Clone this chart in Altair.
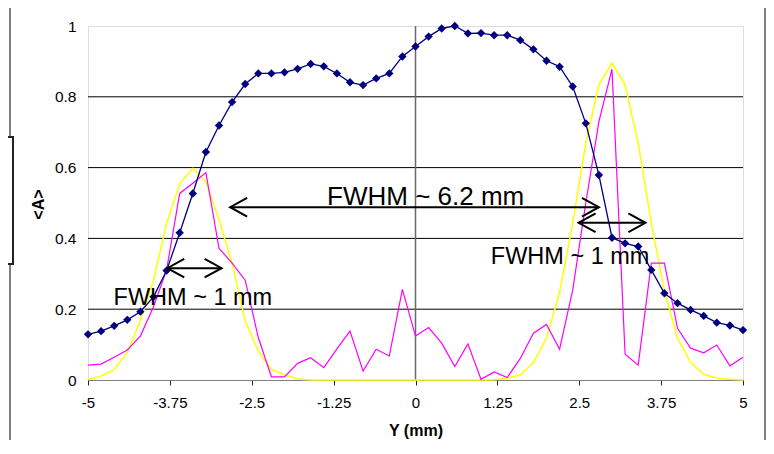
import altair as alt
import pandas as pd

# ---- data ----
y_mm = [-5.0, -4.8, -4.6, -4.4, -4.2, -4.0, -3.8, -3.6, -3.4, -3.2,
        -3.0, -2.8, -2.6, -2.4, -2.2, -2.0, -1.8, -1.6, -1.4, -1.2,
        -1.0, -0.8, -0.6, -0.4, -0.2, 0.0, 0.2, 0.4, 0.6, 0.8,
        1.0, 1.2, 1.4, 1.6, 1.8, 2.0, 2.2, 2.4, 2.6, 2.8,
        3.0, 3.2, 3.4, 3.6, 3.8, 4.0, 4.2, 4.4, 4.6, 4.8, 5.0]

blue = [0.129, 0.138, 0.153, 0.170, 0.193, 0.235, 0.309, 0.416, 0.527, 0.644,
        0.719, 0.785, 0.836, 0.866, 0.866, 0.869, 0.879, 0.893, 0.886, 0.866,
        0.841, 0.833, 0.852, 0.866, 0.914, 0.942, 0.970, 0.993, 1.000, 0.979,
        0.980, 0.974, 0.974, 0.960, 0.934, 0.902, 0.885, 0.829, 0.725, 0.579,
        0.402, 0.386, 0.377, 0.311, 0.245, 0.217, 0.198, 0.181, 0.162, 0.154, 0.141]

magenta = [0.042, 0.045, 0.064, 0.085, 0.124, 0.207, 0.311, 0.527, 0.556, 0.586,
           0.372, 0.330, 0.282, 0.120, 0.009, 0.009, 0.047, 0.063, 0.035, 0.088,
           0.138, 0.025, 0.087, 0.068, 0.256, 0.124, 0.148, 0.104, 0.038, 0.102,
           0.002, 0.023, 0.007, 0.061, 0.132, 0.157, 0.087, 0.254, 0.500, 0.730,
           0.878, 0.073, 0.042, 0.330, 0.330, 0.146, 0.090, 0.077, 0.099, 0.040, 0.064]

yellow = [0.002, 0.011, 0.030, 0.077, 0.169, 0.282, 0.443, 0.554, 0.598, 0.560,
          0.452, 0.330, 0.167, 0.082, 0.030, 0.015, 0.003, 0.0, 0.0, 0.0,
          0.0, 0.0, 0.0, 0.0, 0.0, 0.0, 0.0, 0.0, 0.0, 0.0,
          0.0, 0.001, 0.005, 0.014, 0.049, 0.118, 0.249, 0.443, 0.669, 0.833,
          0.896, 0.833, 0.669, 0.443, 0.252, 0.118, 0.050, 0.016, 0.005, 0.002, 0.0]

x_ticks = [-5, -3.75, -2.5, -1.25, 0, 1.25, 2.5, 3.75, 5]
y_ticks = [0, 0.2, 0.4, 0.6, 0.8, 1]
grid_vals = [0.2, 0.4, 0.6, 0.8]

# annotations: double arrows (y level, left tip, right tip)
arrow_y = [0.488, 0.316, 0.444]
arrow_x1 = [-2.83, -3.79, 2.49]
arrow_x2 = [2.80, -2.96, 3.51]

label_text = ["FWHM ~ 6.2 mm", "FWHM ~ 1 mm", "FWHM ~ 1 mm"]
label_x = [-1.35, -4.61, 1.15]
label_y = [0.494, 0.212, 0.328]
label_size = [26, 23.5, 23.5]

df = pd.DataFrame({"y_mm": y_mm, "blue": blue, "magenta": magenta, "yellow": yellow})
arrows = pd.DataFrame({"y": arrow_y, "x1": arrow_x1, "x2": arrow_x2})
labels = pd.DataFrame({"t": label_text, "x": label_x, "y": label_y, "s": label_size})
grid_df = pd.DataFrame({"g": grid_vals})
one = pd.DataFrame({"k": [0]})

xscale = alt.Scale(domain=[-5, 5], nice=False, zero=False)
yscale = alt.Scale(domain=[0, 1], nice=False)

FONT = "Liberation Sans"

xaxis = alt.Axis(values=x_ticks, labelExpr="datum.value + ''", grid=False,
                 tickSize=5, tickColor="#222222", domainColor="#808080",
                 labelFont=FONT, labelFontSize=15, labelColor="#000000",
                 labelPadding=10, labelFlush=False,
                 title="Y (mm)", titleFont=FONT, titleFontSize=16,
                 titleFontWeight="bold", titleColor="#000000",
                 titleY=50, titleBaseline="middle")
yaxis = alt.Axis(values=y_ticks, labelExpr="datum.value + ''", grid=False,
                 ticks=False, domain=False,
                 labelFont=FONT, labelFontSize=15.5, labelColor="#000000",
                 labelPadding=12,
                 title="<A>", titleFont=FONT, titleFontSize=16,
                 titleFontWeight="bold", titleColor="#000000",
                 titleX=-50, titleY=178, titleBaseline="middle")

base = alt.Chart(df)

gridlines = alt.Chart(grid_df).mark_rule(color="#000000", strokeWidth=1).encode(
    y=alt.Y("g:Q", scale=yscale, axis=yaxis)
)

zero_axis = alt.Chart(one).mark_rule(color="#6a6a6a", strokeWidth=1.5).encode(
    x=alt.datum(0, scale=xscale, axis=xaxis), y=alt.datum(0), y2=alt.datum(1)
)

yel = base.mark_line(color="#FFFF00", strokeWidth=1.5).encode(
    x=alt.X("y_mm:Q", scale=xscale, axis=xaxis),
    y=alt.Y("yellow:Q", scale=yscale, axis=yaxis),
)
mag = base.mark_line(color="#FF00FF", strokeWidth=1.2).encode(
    x=alt.X("y_mm:Q", scale=xscale),
    y=alt.Y("magenta:Q", scale=yscale),
)
blu = base.mark_line(color="#000080", strokeWidth=1.3,
                     point=alt.OverlayMarkDef(shape="diamond", size=70, filled=True,
                                              color="#000080", opacity=1)).encode(
    x=alt.X("y_mm:Q", scale=xscale),
    y=alt.Y("blue:Q", scale=yscale),
)

arrow_lines = alt.Chart(arrows).mark_rule(color="#000000", strokeWidth=2).encode(
    x=alt.X("x1:Q", scale=xscale), x2="x2:Q", y=alt.Y("y:Q", scale=yscale)
)
head_left = alt.Chart(arrows).mark_point(shape="M1,-0.55L0,0L1,0.55", filled=False,
                                         size=1156, strokeWidth=2, color="#000000",
                                         opacity=1).encode(
    x=alt.X("x1:Q", scale=xscale), y=alt.Y("y:Q", scale=yscale)
)
head_right = alt.Chart(arrows).mark_point(shape="M-1,-0.55L0,0L-1,0.55", filled=False,
                                          size=1156, strokeWidth=2, color="#000000",
                                          opacity=1).encode(
    x=alt.X("x2:Q", scale=xscale), y=alt.Y("y:Q", scale=yscale)
)

texts = alt.Chart(labels).mark_text(align="left", baseline="alphabetic", font=FONT,
                                    color="#000000").encode(
    x=alt.X("x:Q", scale=xscale), y=alt.Y("y:Q", scale=yscale), text="t:N",
    size=alt.Size("s:Q", scale=None, legend=None)
)

# outer chart frame pieces (decoration)
frame_l1 = alt.Chart(one).mark_rule(color="#000000", strokeWidth=1).encode(
    x=alt.value(-78), y=alt.value(-18), y2=alt.value(112))
frame_l2 = alt.Chart(one).mark_rule(color="#000000", strokeWidth=1).encode(
    x=alt.value(-78), y=alt.value(238), y2=alt.value(414))
frame_r = alt.Chart(one).mark_rule(color="#000000", strokeWidth=1).encode(
    x=alt.value(677), y=alt.value(-18), y2=alt.value(414))
box = alt.Chart(one).mark_rect(fill="#ffffff", stroke="#222222", strokeWidth=2).encode(
    x=alt.value(-100), x2=alt.value(-75), y=alt.value(111), y2=alt.value(238))

chart = alt.layer(
    gridlines, zero_axis, yel, mag, blu, arrow_lines, head_left, head_right, texts,
    frame_l1, frame_l2, frame_r, box
).properties(
    width=655, height=354,
    autosize=alt.AutoSizeParams(type="none"),
    padding={"left": 80, "top": 18, "right": 23, "bottom": 60},
).configure_view(
    fill="#C0C0C0", stroke="#9a9a9a", strokeWidth=1
).configure(background="#ffffff")

chart.save("out.html", embed_options={"renderer": "svg", "actions": False})
